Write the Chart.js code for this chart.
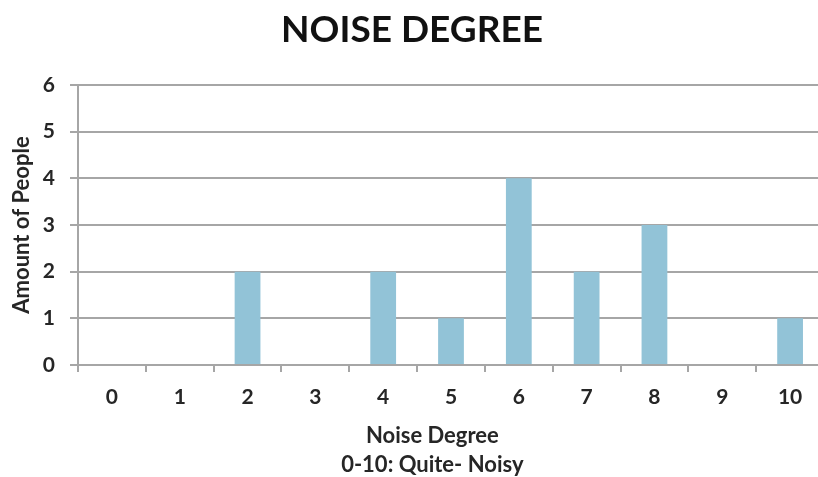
<!DOCTYPE html>
<html>
<head>
<meta charset="utf-8">
<script src="https://cdn.jsdelivr.net/npm/chart.js@4"></script>
<style>
  html, body { margin: 0; padding: 0; background: #fff; overflow: hidden; }
  #wrap { width: 818px; height: 477px; overflow: hidden; position: relative; }
  canvas { display: block; }
</style>
</head>
<body>
<div id="wrap"><canvas id="c" width="826" height="477"></canvas></div>
<script>
// Survey answers: how many people gave each noise rating
const noiseLevels = ['0', '1', '2', '3', '4', '5', '6', '7', '8', '9', '10'];
const peopleCount = [0, 0, 2, 0, 2, 1, 4, 2, 3, 0, 1];
const yTicks = [0, 1, 2, 3, 4, 5, 6];

const chartTitle = 'NOISE DEGREE';
const yTitle = 'Amount of People';
const xTitleLines = ['Noise Degree', '0-10: Quite- Noisy'];

const FONT = 'Lato, "Open Sans", "DejaVu Sans", sans-serif';
const GRID = '#a6a6a6';
const LABEL = '#262626';

// Two-line axis caption drawn under the category labels
const xCaption = {
  id: 'xCaption',
  afterDraw(chart) {
    const { ctx, chartArea } = chart;
    const cx = chartArea.left + (chartArea.right - chartArea.left) * 0.475;
    ctx.save();
    ctx.font = 'bold 22px ' + FONT;
    ctx.fillStyle = LABEL;
    ctx.textAlign = 'center';
    ctx.textBaseline = 'middle';
    ctx.fillText(xTitleLines[0], cx, 436);
    ctx.fillText(xTitleLines[1], cx, 465);
    ctx.restore();
  }
};

new Chart(document.getElementById('c'), {
  type: 'bar',
  data: {
    labels: noiseLevels,
    datasets: [{
      data: peopleCount,
      backgroundColor: '#92c3d7',
      borderWidth: 0,
      barPercentage: 0.38,
      categoryPercentage: 1.0
    }]
  },
  options: {
    responsive: false,
    animation: false,
    devicePixelRatio: 1,
    layout: { padding: { left: 0, right: 2, top: 0, bottom: 0 } },
    plugins: {
      legend: { display: false },
      tooltip: { enabled: false },
      title: {
        display: true,
        text: chartTitle,
        color: '#111',
        font: { family: FONT, size: 37, weight: 'bold', lineHeight: 1.2 },
        padding: { top: 8, bottom: 32.6 }
      }
    },
    scales: {
      x: {
        grid: {
          offset: true,
          drawOnChartArea: false,
          drawTicks: true,
          tickLength: 7,
          color: GRID,
          lineWidth: 2
        },
        border: { color: GRID, width: 2 },
        ticks: {
          color: LABEL,
          padding: 13,
          font: { family: FONT, size: 21, weight: 'bold' }
        },
        afterFit(scale) { scale.height = 112; }
      },
      y: {
        min: 0,
        max: 6,
        afterBuildTicks(scale) { scale.ticks = yTicks.map(v => ({ value: v })); },
        grid: {
          color: GRID,
          lineWidth: 2,
          drawTicks: true,
          tickLength: 8
        },
        border: { color: GRID, width: 2 },
        ticks: {
          color: LABEL,
          padding: 15,
          font: { family: FONT, size: 21, weight: 'bold' }
        },
        title: {
          display: true,
          text: yTitle,
          color: LABEL,
          font: { family: FONT, size: 22, weight: 'bold', lineHeight: 1.2 },
          padding: { top: 9, bottom: 0 }
        },
        afterFit(scale) { scale.width = 78; }
      }
    }
  },
  plugins: [xCaption]
});
</script>
</body>
</html>
